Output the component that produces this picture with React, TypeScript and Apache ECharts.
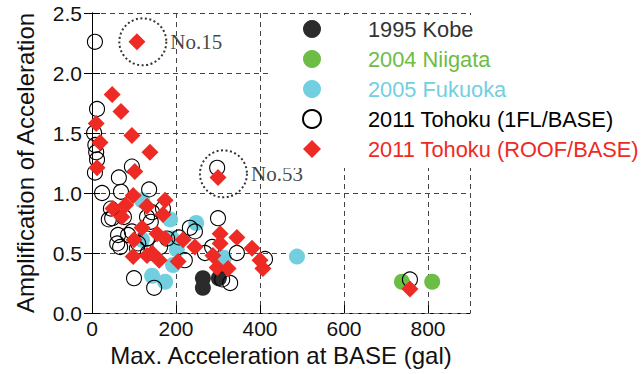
import React, { useEffect, useRef } from "react";
import * as echarts from "echarts";

// Peak base acceleration (gal) vs. amplification ratio, per earthquake
const kobe: number[][] = [
  [264, 0.29], [264, 0.21], [302, 0.29],
];
const niigata: number[][] = [
  [738, 0.26], [810, 0.26],
];
const fukuoka: number[][] = [
  [119, 0.94], [186, 0.78], [248, 0.75], [119, 0.61], [190, 0.62], [202, 0.53],
  [193, 0.4], [143, 0.31], [174, 0.26], [314, 0.46], [488, 0.47],
];
const tohoku1FL: number[][] = [
  [7, 2.26], [12, 1.7], [5, 1.5], [8, 1.4], [10, 1.34], [12, 1.28], [7, 1.17],
  [24, 1.0], [95, 1.22], [64, 1.13], [69, 1.01], [136, 1.03], [45, 0.87],
  [40, 0.78], [76, 0.8], [48, 0.79], [60, 0.58], [95, 0.68], [140, 0.76],
  [131, 0.62], [179, 0.62], [207, 0.63], [100, 0.29], [148, 0.21], [107, 0.54],
  [131, 0.8], [143, 0.84], [169, 0.87], [62, 0.65], [86, 0.65], [67, 0.55],
  [110, 0.58], [162, 0.55], [133, 0.5], [233, 0.71], [245, 0.68], [300, 0.79],
  [286, 0.55], [269, 0.5], [345, 0.5], [412, 0.45], [310, 0.28], [329, 0.25],
  [221, 0.44], [298, 1.21], [757, 0.28],
];
const tohokuRoof: number[][] = [
  [107, 2.26], [48, 1.82], [69, 1.68], [10, 1.58], [19, 1.42], [95, 1.48],
  [138, 1.34], [12, 1.21], [102, 1.18], [98, 0.98], [174, 0.94], [50, 0.87],
  [80, 0.9], [131, 0.89], [71, 0.8], [169, 0.82], [119, 0.71], [100, 0.61],
  [155, 0.66], [174, 0.62], [98, 0.47], [131, 0.48], [143, 0.5], [160, 0.44],
  [205, 0.43], [217, 0.61], [245, 0.55], [288, 0.48], [305, 0.66], [305, 0.58],
  [345, 0.63], [298, 0.38], [324, 0.37], [381, 0.54], [400, 0.44], [407, 0.37],
  [300, 1.13], [757, 0.2],
];

// Dotted rings marking specific buildings
const callouts: { name: string; value: number[] }[] = [
  { name: "No.15", value: [121, 2.26] },
  { name: "No.53", value: [313, 1.16] },
];

const seriesNames = [
  "1995 Kobe",
  "2004 Niigata",
  "2005 Fukuoka",
  "2011 Tohoku (1FL/BASE)",
  "2011 Tohoku (ROOF/BASE)",
];
const seriesColors = ["#2b2b2b", "#6cbd45", "#72cfe0", "#000000", "#ee2a24"];
const legendTextColors = ["#333333", "#6cbd45", "#72cfe0", "#000000", "#ee2a24"];

const SANS = "'Liberation Sans', Arial, sans-serif";
const SERIF = "'Liberation Serif', 'Times New Roman', serif";

export default function App() {
  const ref = useRef<HTMLDivElement>(null);

  useEffect(() => {
    if (!ref.current) return;
    const chart = echarts.init(ref.current, undefined, { renderer: "svg" });

    const gridDash = { color: "#444", width: 1, type: [5, 4] as number[] };

    const option: any = {
      animation: false,
      backgroundColor: "#fff",
      textStyle: { fontFamily: SANS },
      grid: {
        left: 92,
        top: 13,
        width: 378,
        height: 300,
        containLabel: false,
        outerBoundsMode: "none",
      },
      legend: {
        orient: "vertical",
        left: 270,
        top: 15,
        padding: [3, 10, 8, 32],
        itemGap: 8,
        itemWidth: 18,
        itemHeight: 18,
        backgroundColor: "#fff",
        textStyle: {
          fontFamily: SANS,
          fontSize: 21.8,
          lineHeight: 21,
          padding: [0, 0, 0, 42],
        },
        data: seriesNames.map((n, i) => ({
          name: n,
          textStyle: { color: legendTextColors[i] },
        })),
      },
      xAxis: [
        {
          type: "value",
          min: 0,
          max: 900,
          interval: 200,
          name: "Max. Acceleration at BASE (gal)",
          nameLocation: "middle",
          nameGap: 30,
          nameTextStyle: { fontFamily: SANS, fontSize: 24, color: "#111" },
          axisLine: { show: true, onZero: false, lineStyle: { color: "#000", width: 1 } },
          axisTick: { show: true, inside: true, length: 8, lineStyle: { color: "#000" } },
          axisLabel: {
            fontFamily: SANS,
            fontSize: 21,
            color: "#111",
            margin: 5,
            showMaxLabel: false,
          },
          splitLine: { show: true, lineStyle: gridDash },
        },
        {
          type: "value",
          position: "top",
          min: 0,
          max: 900,
          interval: 200,
          axisLine: { show: true, lineStyle: { color: "#777", width: 1, type: [5, 4] } },
          axisTick: { show: false },
          axisLabel: { show: false },
          splitLine: { show: false },
        },
      ],
      yAxis: [
        {
          type: "value",
          min: 0,
          max: 2.5,
          interval: 0.5,
          name: "Amplification of Acceleration",
          nameLocation: "middle",
          nameGap: 55,
          nameTextStyle: { fontFamily: SANS, fontSize: 24, color: "#111" },
          axisLine: { show: true, onZero: false, lineStyle: { color: "#000", width: 1 } },
          axisTick: { show: true, inside: true, length: 8, lineStyle: { color: "#000" } },
          axisLabel: {
            fontFamily: SANS,
            fontSize: 21,
            color: "#111",
            margin: 10,
            formatter: (v: number) => v.toFixed(1),
          },
          splitLine: { show: true, lineStyle: gridDash },
        },
        {
          type: "value",
          position: "right",
          min: 0,
          max: 2.5,
          interval: 0.5,
          axisLine: { show: true, lineStyle: { color: "#000", width: 1 } },
          axisTick: { show: true, inside: true, length: 8, lineStyle: { color: "#000" } },
          axisLabel: { show: false },
          splitLine: { show: false },
        },
      ],
      series: [
        {
          name: "annotations",
          type: "scatter",
          silent: true,
          z: 1,
          symbol: "circle",
          symbolSize: 47,
          data: callouts.map((c) => ({ name: c.name, value: c.value })),
          itemStyle: {
            color: "rgba(0,0,0,0)",
            borderColor: "#000",
            borderWidth: 2,
            borderType: [2, 2.5],
          },
          label: {
            show: true,
            position: "right",
            distance: 3,
            formatter: (p: any) => p.name,
            fontFamily: SERIF,
            fontSize: 21,
            color: "#111",
          },
        },
        {
          name: seriesNames[2],
          type: "scatter",
          symbol: "circle",
          symbolSize: 16,
          data: fukuoka,
          itemStyle: { color: seriesColors[2], opacity: 1 },
        },
        {
          name: seriesNames[1],
          type: "scatter",
          symbol: "circle",
          symbolSize: 16,
          data: niigata,
          itemStyle: { color: seriesColors[1], opacity: 1 },
        },
        {
          name: seriesNames[0],
          type: "scatter",
          symbol: "circle",
          symbolSize: 16,
          data: kobe,
          itemStyle: { color: seriesColors[0], opacity: 1 },
        },
        {
          name: seriesNames[3],
          type: "scatter",
          symbol: "circle",
          symbolSize: 15,
          data: tohoku1FL,
          itemStyle: {
            color: "rgba(255,255,255,0)",
            borderColor: "#000",
            borderWidth: 1.1,
            opacity: 1,
          },
        },
        {
          name: seriesNames[4],
          type: "scatter",
          symbol: "diamond",
          symbolSize: 17,
          data: tohokuRoof,
          itemStyle: { color: seriesColors[4], opacity: 1 },
        },
      ],
    };

    chart.setOption(option);
    return () => chart.dispose();
  }, []);

  return (
    <div
      ref={ref}
      style={{ position: "fixed", left: 0, top: 0, width: 641, height: 374 }}
    />
  );
}
